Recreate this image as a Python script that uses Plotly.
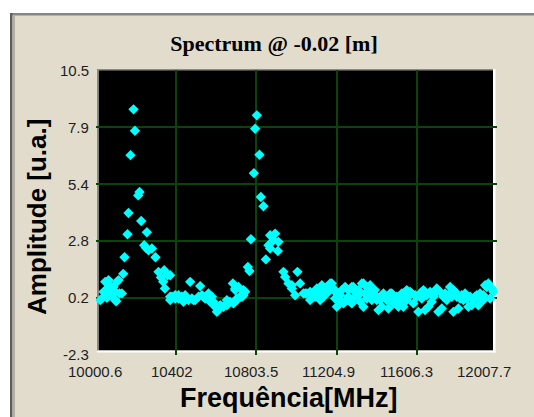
import plotly.graph_objects as go

# ---------------- data ----------------
freq_mhz = [
    10021.6, 10030.1, 10038.1, 10046.6, 10051.6, 10055.1, 10063.2, 10063.2, 10071.7, 10071.7,
    10076.7, 10088.2, 10096.7, 10096.7, 10101.7, 10105.2, 10113.2, 10118.2, 10130.2, 10136.7,
    10143.2, 10158.2, 10163.2, 10173.2, 10188.3, 10195.3, 10211.8, 10218.3, 10226.8, 10241.8,
    10250.3, 10255.3, 10263.3, 10280.3, 10298.3, 10313.4, 10325.4, 10336.9, 10341.9, 10345.4,
    10358.4, 10371.9, 10371.9, 10380.4, 10396.9, 10396.9, 10413.4, 10413.4, 10430.4, 10447.0,
    10463.5, 10472.0, 10480.5, 10497.0, 10513.5, 10522.0, 10530.5, 10547.0, 10563.6, 10580.6,
    10588.6, 10597.1, 10605.6, 10622.1, 10638.6, 10655.6, 10672.1, 10685.6, 10688.7, 10697.2,
    10705.7, 10713.7, 10722.2, 10730.7, 10738.7, 10738.7, 10747.2, 10760.7, 10768.7, 10775.7,
    10790.7, 10797.2, 10805.7, 10818.8, 10825.8, 10838.8, 10850.8, 10863.8, 10872.3, 10872.3,
    10888.8, 10897.3, 10913.8, 10910.8, 10938.9, 10947.4, 10963.9, 10980.9, 10980.9, 10997.4,
    11008.9, 11022.4, 11038.9, 11047.4, 11055.9, 11072.5, 11072.5, 11089.0, 11097.5, 11097.5,
    11106.0, 11122.5, 11122.5, 11131.0, 11139.0, 11156.0, 11164.0, 11172.5, 11181.0, 11189.1,
    11197.6, 11206.1, 11206.1, 11214.1, 11222.6, 11231.1, 11239.1, 11247.6, 11256.1, 11264.1,
    11272.6, 11281.1, 11281.1, 11289.1, 11289.1, 11297.6, 11306.1, 11314.1, 11322.6, 11331.2,
    11339.2, 11339.2, 11356.2, 11356.2, 11372.7, 11372.7, 11381.2, 11389.2, 11406.2, 11406.2,
    11414.2, 11422.7, 11431.2, 11439.2, 11439.2, 11456.2, 11464.3, 11472.8, 11472.8, 11489.3,
    11506.3, 11506.3, 11514.3, 11522.8, 11531.3, 11539.3, 11539.3, 11547.8, 11556.3, 11556.3,
    11572.9, 11589.4, 11597.9, 11614.4, 11622.9, 11639.4, 11647.9, 11656.4, 11664.4, 11672.9,
    11681.4, 11689.5, 11706.5, 11714.5, 11723.0, 11731.5, 11739.5, 11756.5, 11773.0, 11789.5,
    11789.5, 11806.5, 11814.6, 11823.1, 11839.6, 11856.6, 11864.6, 11873.1, 11881.6, 11889.6,
    11906.6, 11914.6, 11923.1, 11939.6, 11939.6, 11948.2, 11956.7, 11964.7, 11973.2, 11981.7,
    # extra points of the dense baseline bands
    10371.9, 10405.4, 10438.5, 10488.5, 10538.5, 10572.1, 10630.6, 10655.6, 10705.7, 10730.7,
    10697.2, 10738.7,
    11114.0, 11148.0, 11223.0, 11264.0, 11314.0, 11347.0, 11397.0, 11448.0, 11481.0, 11498.0,
    11564.0, 11581.0, 11606.0, 11631.0, 11698.0, 11748.0, 11764.0, 11781.0, 11798.0, 11831.0,
    11848.0, 11898.0, 11931.0, 11990.0,
]
amp_ua = [
    0.16, 0.23, 0.53, 0.98, 0.61, 0.26, 0.75, 1.06, 0.80, 0.46,
    0.38, 0.75, 0.53, 0.16, 0.11, 0.98, 1.06, 0.46, 0.46, 1.34,
    2.09, 3.12, 4.08, 6.68, 8.74, 7.78, 4.87, 5.02, 3.72, 2.63,
    2.51, 3.21, 2.40, 2.48, 2.09, 1.43, 1.18, 0.98, 1.50, 0.68,
    1.28, 1.28, 0.31, 0.31, 0.23, 0.38, 0.38, 0.23, 0.31, 0.38,
    0.16, 0.98, 0.23, 0.16, 0.31, 0.79, 0.38, 0.23, 0.46, 0.31,
    0.08, -0.14, -0.37, -0.07, -0.14, 0.16, 0.08, 0.91, 0.01, 0.68,
    0.23, 0.75, 0.31, 0.31, 0.38, 0.53, 0.53, 1.65, 1.47, 2.90,
    5.87, 7.87, 8.47, 6.70, 4.80, 4.38, 1.99, 2.63, 3.08, 2.48,
    2.85, 3.15, 2.78, 2.37, 1.43, 1.20, 0.91, 0.68, 0.83, 0.38,
    1.43, 0.91, 0.46, 0.46, 0.46, 0.53, 0.16, 0.46, 0.31, 0.38,
    0.68, 0.61, 0.16, 0.83, 0.31, 0.75, 0.53, 0.91, 0.91, 0.68,
    0.23, 0.46, -0.14, 0.46, 0.16, 0.61, 0.01, 0.75, 0.16, 0.61,
    0.16, 0.75, 0.01, 0.23, 0.75, 0.53, 0.46, 0.38, 0.08, 0.91,
    0.91, -0.14, 0.75, 0.23, 0.83, 0.46, 0.16, 0.46, 0.31, 0.16,
    -0.29, 0.16, -0.14, 0.38, 0.46, 0.16, -0.22, 0.46, 0.31, 0.01,
    0.31, 0.16, -0.14, 0.16, 0.46, 0.46, -0.14, 0.46, 0.61, 0.16,
    0.53, 0.01, 0.38, -0.37, 0.46, 0.61, -0.29, 0.38, -0.14, 0.53,
    0.08, 0.31, 0.68, -0.37, 0.53, -0.22, 0.31, 0.16, 0.75, 0.61,
    -0.37, 0.31, -0.22, 0.23, 0.16, 0.23, -0.14, 0.31, -0.07, 0.16,
    0.38, -0.07, 0.46, 0.38, 0.16, 0.83, 0.75, 0.91, 0.23, 0.68,
    0.16, 0.31, 0.08, 0.16, 0.31, 0.08, -0.14, -0.07, 0.16, 0.38,
    0.61, 0.61,
    0.46, 0.61, 0.38, 0.31, 0.61, 0.46, 0.61, 0.31, 0.46, 0.23,
    0.31, 0.46, 0.31, 0.23, 0.46, 0.46, 0.38, 0.31, 0.53, 0.38,
    0.46, 0.31, 0.23, 0.53,
]

x_tick_vals = [10000.6, 10402.0, 10803.5, 11204.9, 11606.3, 12007.7]
x_tick_text = ["10000.6", "10402", "10803.5", "11204.9", "11606.3", "12007.7"]
y_tick_vals = [10.5, 7.94, 5.38, 2.82, 0.26, -2.3]
y_tick_text = ["10.5", "7.9", "5.4", "2.8", "0.2", "-2.3"]

title_text = "Spectrum @ -0.02 [m]"
x_title = "Frequência[MHz]"
y_title = "Amplitude [u.a.]"

# ---------------- layout geometry ----------------
W, H = 534, 417
ML, MR, MT, MB = 96, 37, 70, 62
PW, PH = W - ML - MR, H - MT - MB


def px(p):
    return (p - ML) / PW


def py(p):
    return (H - MB - p) / PH


BEIGE = "#E2DCCD"
GRID = "#0B440B"
CYAN = "#00FFFF"

fig = go.Figure()
fig.add_trace(go.Scatter(
    x=freq_mhz, y=amp_ua, mode="markers",
    marker=dict(symbol="diamond", size=8, color=CYAN, line=dict(width=0)),
    hoverinfo="x+y", showlegend=False,
))

shapes = []


def rect(x0, y0, x1, y1, color, layer="below"):
    shapes.append(dict(type="rect", xref="paper", yref="paper",
                       x0=px(x0), x1=px(x1), y0=py(y1), y1=py(y0),
                       fillcolor=color, line=dict(width=0), layer=layer))


# page/window chrome
rect(0, 0, W, 13, "#FFFFFF", "above")
rect(0, 0, 10, H, "#FFFFFF", "above")
rect(10, 13, W, 15.5, "#868686", "above")
rect(10, 13, 12.5, H, "#5E5E5E", "above")
rect(12.5, 15.5, 15, H, "#B4B0A6", "above")
# plot frame (sunken)
rect(98.5, 70, 493, 350.5, "#000000")
rect(97, 69, 494, 70.5, "#8A8A8A")
rect(97, 69, 98.5, 351, "#8A8A8A")
rect(97, 350.5, 495.5, 352.5, "#FFFFFF")
rect(493, 69, 495.5, 352.5, "#FFFFFF")

annotations = []
x_shift = [-1, -4, -5, -8, -10, -13]
for v, t, s in zip(x_tick_vals, x_tick_text, x_shift):
    annotations.append(dict(x=v, y=0, xref="x", yref="paper", text=t, showarrow=False,
                            xanchor="center", yanchor="middle", xshift=s, yshift=-16.5,
                            font=dict(family="Liberation Sans, Arial", size=15, color="#1E1E1E")))
for v, t in zip(y_tick_vals, y_tick_text):
    annotations.append(dict(x=0, y=v, xref="paper", yref="y", text=t, showarrow=False,
                            xanchor="right", yanchor="middle", xshift=-5,
                            font=dict(family="Liberation Sans, Arial", size=15, color="#1E1E1E")))
annotations.append(dict(x=px(289), y=py(398), xref="paper", yref="paper", text=x_title,
                        showarrow=False, xanchor="center", yanchor="middle",
                        font=dict(family="Liberation Sans, Arial", size=27, color="#000000", weight="bold")))
annotations.append(dict(x=px(37), y=py(217), xref="paper", yref="paper", text=y_title,
                        showarrow=False, xanchor="center", yanchor="middle", textangle=-90,
                        font=dict(family="Liberation Sans, Arial", size=26, color="#000000", weight="bold")))

fig.update_layout(
    width=W, height=H,
    margin=dict(l=ML, r=MR, t=MT, b=MB, pad=0),
    paper_bgcolor=BEIGE, plot_bgcolor=BEIGE,
    title=dict(text=title_text, x=274 / W, xref="container", xanchor="center",
               y=1 - 43 / H, yref="container", yanchor="middle",
               font=dict(family="Liberation Serif, Times New Roman", size=22, color="#000000", weight="bold")),
    shapes=shapes, annotations=annotations, showlegend=False,
    xaxis=dict(range=[x_tick_vals[0] - 0.1, x_tick_vals[-1] + 0.1], tickvals=x_tick_vals[1:-1],
               showticklabels=False, ticks="", showgrid=True, gridcolor=GRID, gridwidth=1.5,
               zeroline=False, showline=False, fixedrange=True),
    yaxis=dict(range=[y_tick_vals[-1] - 0.01, y_tick_vals[0] + 0.01], tickvals=y_tick_vals[1:-1],
               showticklabels=False, ticks="", showgrid=True, gridcolor=GRID, gridwidth=1.5,
               zeroline=False, showline=False, fixedrange=True),
)

fig.write_html("out.html")
